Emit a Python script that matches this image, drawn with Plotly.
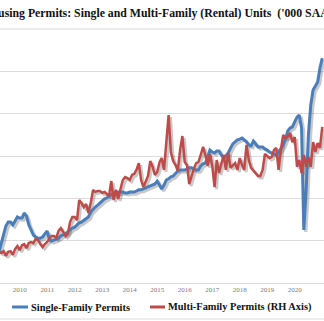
import pandas as pd
import plotly.graph_objects as go

# Monthly observations, Mar 2009 - Dec 2020 (month-end)
months = pd.date_range("2009-03-31", "2020-12-31", freq="ME")

# Single-family permits ('000, SAAR) - left axis
single_family = [
    410, 438, 470, 502, 516, 516, 506, 520, 534, 530, 530, 548, 537, 506, 484, 470,
    463, 459, 459, 463, 474, 484, 452, 449, 452, 456, 459, 467, 470, 474, 481, 488,
    495, 498, 506, 513, 516, 523, 527, 534, 552, 562, 569, 576, 584, 591, 598, 601,
    608, 612, 619, 619, 622, 622, 622, 619, 619, 622, 622, 622, 626, 630, 630, 633,
    637, 640, 644, 647, 651, 661, 644, 633, 647, 665, 669, 676, 679, 690, 697, 700,
    700, 700, 704, 708, 708, 704, 700, 700, 715, 722, 725, 747, 771, 764, 761, 768,
    768, 754, 743, 750, 761, 778, 793, 800, 807, 810, 814, 807, 800, 789, 786, 803,
    793, 782, 782, 782, 775, 771, 764, 761, 757, 754, 764, 778, 789, 810, 839, 849,
    853, 871, 888, 895, 849, 488, 630, 825, 931, 984, 998, 1012, 1062, 1097,
]

# Multi-family permits ('000, SAAR) - right axis
multi_family = [
    92, 89, 94, 80, 92, 94, 83, 100, 109, 97, 112, 115, 103, 118, 121, 118,
    130, 127, 115, 106, 115, 121, 133, 139, 139, 133, 154, 162, 151, 139, 145, 180,
    195, 195, 186, 245, 236, 224, 233, 207, 236, 275, 269, 272, 272, 266, 269, 263,
    257, 301, 245, 275, 248, 278, 304, 313, 310, 304, 319, 322, 334, 354, 304, 283,
    298, 316, 360, 343, 319, 328, 357, 369, 334, 428, 496, 387, 360, 348, 331, 393,
    434, 357, 348, 292, 316, 337, 354, 357, 378, 402, 378, 346, 381, 346, 283, 363,
    325, 354, 378, 334, 384, 340, 346, 354, 334, 369, 348, 334, 408, 363, 340, 331,
    322, 316, 316, 334, 381, 375, 369, 372, 393, 399, 334, 393, 437, 428, 431, 443,
    416, 431, 343, 363, 325, 378, 343, 372, 343, 416, 387, 413, 399, 461,
]

years = list(range(2010, 2022))

TITLE = "Housing Permits: Single and Multi-Family (Rental) Units  ('000 SAAR)"
SF_NAME = "Single-Family Permits"
MF_NAME = "Multi-Family Permits (RH Axis)"

BLUE = "#4a7ebb"
RED = "#be4b48"
SHADOW = "rgba(60,60,60,0.28)"
GRID = "#dcdcdc"
SERIF = "Liberation Serif"

# Axis ranges
X_RANGE = [pd.Timestamp("2009-04-13"), pd.Timestamp("2021-01-23")]
L_RANGE = [300, 1200]
R_RANGE = [0, 750]

# Drop-shadow offset, expressed through shifted axis ranges
PX_W, PX_H = 324, 254
x_span = X_RANGE[1] - X_RANGE[0]
dx = x_span * (2 / PX_W)
dl = (L_RANGE[1] - L_RANGE[0]) * 2 / PX_H
dr = (R_RANGE[1] - R_RANGE[0]) * 2 / PX_H

fig = go.Figure()

# shadows (base subplot, drawn first)
fig.add_trace(go.Scatter(x=months, y=single_family, mode="lines", xaxis="x", yaxis="y",
                         line=dict(color=SHADOW, width=3.2), hoverinfo="skip", showlegend=False))
fig.add_trace(go.Scatter(x=months, y=multi_family, mode="lines", xaxis="x", yaxis="y2",
                         line=dict(color=SHADOW, width=2.8), hoverinfo="skip", showlegend=False))
# series
fig.add_trace(go.Scatter(x=months, y=single_family, mode="lines", name=SF_NAME, xaxis="x2", yaxis="y3",
                         line=dict(color=BLUE, width=3), showlegend=False))
fig.add_trace(go.Scatter(x=months, y=multi_family, mode="lines", name=MF_NAME, xaxis="x2", yaxis="y4",
                         line=dict(color=RED, width=2.5), showlegend=False))

hidden = dict(visible=False, fixedrange=True)

fig.update_layout(
    width=324, height=321,
    margin=dict(l=0, r=0, t=29, b=38),
    paper_bgcolor="white", plot_bgcolor="white",
    showlegend=False,
    xaxis=dict(type="date", range=[X_RANGE[0] - dx, X_RANGE[1] - dx], **hidden),
    yaxis=dict(range=[L_RANGE[0] + dl, L_RANGE[1] + dl], **hidden),
    yaxis2=dict(range=[R_RANGE[0] + dr, R_RANGE[1] + dr], overlaying="y", **hidden),
    xaxis2=dict(
        type="date", range=X_RANGE, overlaying="x", anchor="y3", side="bottom",
        tickmode="array", tickvals=[pd.Timestamp(f"{y}-01-01") for y in years],
        ticktext=[str(y) for y in years],
        showgrid=False, showline=True, linecolor=GRID, linewidth=1,
        ticks="", tickfont=dict(family=SERIF, size=7, color="#7a7a7a"),
        fixedrange=True,
    ),
    yaxis3=dict(range=L_RANGE, overlaying="y", tickmode="linear", tick0=300, dtick=150,
                showgrid=True, gridcolor=GRID, gridwidth=1, showticklabels=False,
                zeroline=False, showline=False, ticks="", fixedrange=True),
    yaxis4=dict(range=R_RANGE, overlaying="y", side="right", showgrid=False,
                showticklabels=False, zeroline=False, showline=False, ticks="", fixedrange=True),
)

def py(px):
    """pixel row -> paper y"""
    return (283 - px) / PX_H

def px_x(px):
    return px / PX_W

# title
fig.add_annotation(text=f"<b>{TITLE}</b>", xref="paper", yref="paper",
                   x=px_x(-19), y=py(13), xanchor="left", yanchor="middle",
                   showarrow=False, font=dict(family=SERIF, size=11.8, color="#111111"))

# separators above the plot and below the legend
for row in (29, 319):
    fig.add_shape(type="line", xref="paper", yref="paper", x0=0, x1=1, y0=py(row), y1=py(row),
                  line=dict(color=GRID, width=1.2))

# legend
legend_items = [(SF_NAME, BLUE, 12, 28), (MF_NAME, RED, 150, 165)]
for name, color, x0, x1 in legend_items:
    fig.add_shape(type="line", xref="paper", yref="paper", x0=px_x(x0), x1=px_x(x1),
                  y0=py(307), y1=py(307), line=dict(color=color, width=3))
    fig.add_annotation(text=f"<b>{name}</b>", xref="paper", yref="paper",
                       x=px_x(x1 + 0.5), y=py(307), xanchor="left", yanchor="middle",
                       showarrow=False, font=dict(family=SERIF, size=10.4, color="#111111"))

fig.write_html("out.html")
